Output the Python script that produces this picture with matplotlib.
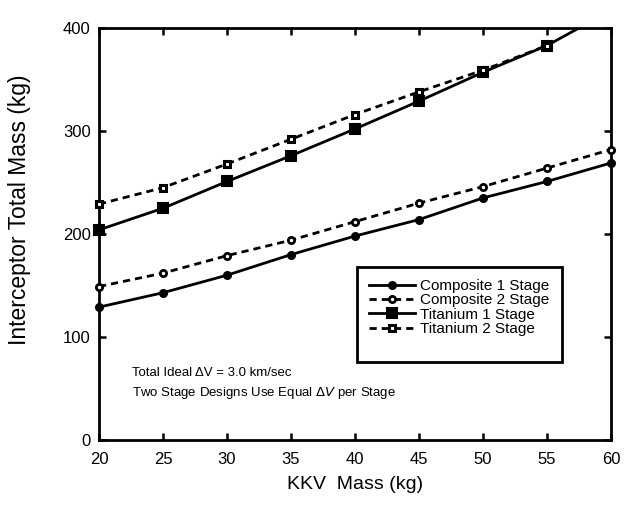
import matplotlib
matplotlib.use("Agg")
import matplotlib.pyplot as plt
from matplotlib.patches import Rectangle
import numpy as np

plt.rcParams['font.family'] = ['Liberation Sans', 'DejaVu Sans']

kkv_mass = [20, 25, 30, 35, 40, 45, 50, 55, 60]
composite_1 = [129, 143, 160, 180, 198, 214, 235, 251, 269]
composite_2 = [149, 162, 179, 194, 212, 230, 246, 264, 282]
titanium_1 = [204, 225, 251, 276, 302, 329, 357, 383, 417]
titanium_2 = [229, 245, 268, 292, 316, 338, 359, 383]

x_ticks = [20, 25, 30, 35, 40, 45, 50, 55, 60]
y_ticks = [0, 100, 200, 300, 400]

fig = plt.figure(figsize=(6.35, 5.19), dpi=100)
ax = fig.add_axes([99/635, 1-440/519, 512/635, 412/519])
ax.set_xlim(20, 60)
ax.set_ylim(0, 400)

lw = 2.0
dash = (2.6, 1.8)

def series(xs, ys, ls, marker, mfc, ms, label, mew=1.5):
    xs = np.asarray(xs, float)
    ys = np.asarray(ys, float)
    line, = ax.plot(xs, ys, color='black', lw=lw, ls=ls, clip_on=True, zorder=3)
    if ls == '--':
        line.set_dashes(dash)
    inside = ys <= 400
    ax.plot(xs[inside], ys[inside], ls='none', marker=marker, ms=ms, mfc=mfc,
            mec='black', mew=mew, clip_on=False, zorder=4)
    h, = ax.plot([], [], color='black', lw=lw, ls=ls, marker=marker, ms=ms,
                 mfc=mfc, mec='black', mew=mew, label=label)
    if ls == '--':
        h.set_dashes(dash)
    return h

h1 = series(kkv_mass, composite_1, '-', 'o', 'black', 5, 'Composite 1 Stage')
h2 = series(kkv_mass, composite_2, '--', 'o', 'white', 4.5, 'Composite 2 Stage', mew=2)
h3 = series(kkv_mass, titanium_1, '-', 's', 'black', 6.5, 'Titanium 1 Stage')
h4 = series(kkv_mass[:len(titanium_2)], titanium_2, '--', 's', 'white', 5, 'Titanium 2 Stage', mew=2.2)

for s in ax.spines.values():
    s.set_linewidth(2.0)

ax.set_xticks(x_ticks)
ax.set_yticks(y_ticks)
ax.tick_params(direction='in', length=5, width=1.8, top=True, right=True,
               labelsize=12)
ax.tick_params(axis='x', pad=9)
ax.tick_params(axis='y', pad=6)

ax.set_xlabel('KKV  Mass (kg)', fontsize=14, labelpad=6)
ax.set_ylabel('Interceptor Total Mass (kg)', fontsize=16.5)
ax.yaxis.set_label_coords(-0.133, 0.558)

ax.text(0.064, 0.163, 'Total Ideal ΔV = 3.0 km/sec', transform=ax.transAxes,
        fontsize=9.5, va='center', ha='left')
ax.text(0.064, 0.114, 'Two Stage Designs Use Equal $\\Delta V$ per Stage',
        transform=ax.transAxes, fontsize=9.5, va='center', ha='left')

rect = Rectangle((0.504, 0.189), 0.4, 0.231, transform=ax.transAxes,
                 facecolor='white', edgecolor='black', lw=2.0, zorder=5)
ax.add_patch(rect)
leg = ax.legend(handles=[h1, h2, h3, h4], loc='upper left',
                bbox_to_anchor=(0.504, 0.42), frameon=False, fontsize=11,
                handlelength=3.0, handletextpad=0.35, labelspacing=0.02,
                borderpad=0.6, borderaxespad=0.2)
leg.set_zorder(6)

fig.savefig('out.png', dpi=100)
